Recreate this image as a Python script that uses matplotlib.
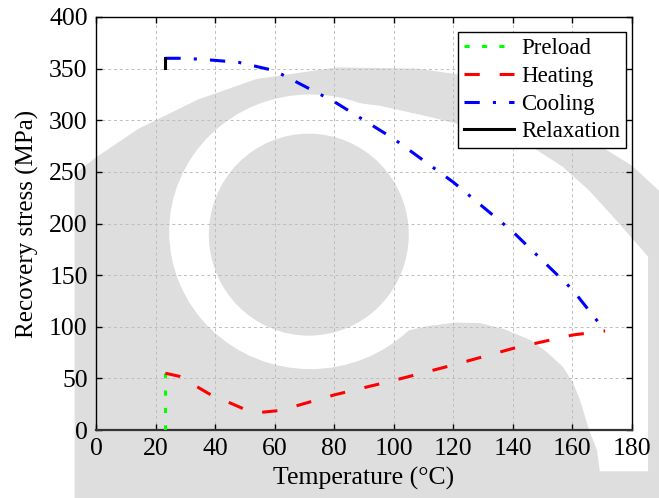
import numpy as np
import matplotlib.pyplot as plt
from matplotlib.patches import Ellipse, Polygon

plt.rcParams['font.family'] = ['Liberation Serif', 'DejaVu Serif']

# data
preload_t = [23.3, 23.3]
preload_s = [0, 55]

heating_t = [23.3, 28, 38, 50, 55, 62, 80, 100, 120, 140, 160, 171]
heating_s = [55, 52, 35, 20, 17, 19, 34, 48, 63, 79, 92, 96]

cooling_t = [23.3, 30, 40, 48, 60, 80, 100, 120, 140, 160, 171]
cooling_s = [360, 360, 358, 356, 348, 318, 282, 240, 192, 136, 96]

relax_t = [23.3, 23.3]
relax_s = [351, 360]

fig = plt.figure(figsize=(6.59, 4.98), dpi=100)
ax = fig.add_axes([0.1457, 0.1365, 0.8133, 0.8294])

# faint eye-shaped watermark behind the plot (axes fraction coords)
wm = '#dedede'
outer = [(-0.04, -0.4), (-0.04, 0.62), (0.0, 0.66), (0.08, 0.73), (0.19, 0.80),
         (0.30, 0.85), (0.45, 0.878), (0.60, 0.875), (0.707, 0.855),
         (0.80, 0.80), (0.90, 0.72), (1.0, 0.64), (1.05, 0.58), (1.1, 0.5),
         (1.1, -0.4)]
eye_white = [(0.40, 0.80), (0.437, 0.80), (0.53, 0.785), (0.623, 0.758),
             (0.748, 0.717), (0.82, 0.68), (0.871, 0.637), (0.92, 0.58),
             (0.965, 0.516), (1.03, 0.42), (1.03, -0.1), (0.94, -0.1),
             (0.935, -0.05), (0.92, 0.0), (0.903, 0.073), (0.89, 0.115),
             (0.871, 0.153), (0.84, 0.19), (0.81, 0.218), (0.76, 0.245),
             (0.716, 0.259), (0.67, 0.26), (0.62, 0.252), (0.562, 0.235),
             (0.50, 0.197), (0.437, 0.153), (0.40, 0.15), (0.35, 0.5)]
ax.add_patch(Polygon(outer, closed=True, transform=ax.transAxes, facecolor=wm,
                     edgecolor='none', zorder=0, clip_on=False))
ax.add_patch(Polygon(eye_white, closed=True, transform=ax.transAxes,
                     facecolor='white', edgecolor='none', zorder=0, clip_on=False))
ax.add_patch(Ellipse((0.40, 0.48), 0.527, 0.665, transform=ax.transAxes,
                     facecolor='white', edgecolor='none', zorder=0))
ax.add_patch(Ellipse((0.397, 0.473), 0.373, 0.489, transform=ax.transAxes,
                     facecolor=wm, edgecolor='none', zorder=0))

lw = 2.2
ax.plot(preload_t, preload_s, color='#00ff00', lw=lw, dashes=(1.7, 4.0),
        label='Preload', zorder=3)
ax.plot(heating_t, heating_s, color='red', lw=lw, dashes=(5, 6.5),
        label='Heating', zorder=3)
ax.plot(cooling_t, cooling_s, color='blue', lw=lw, dashes=(5, 4.3, 1, 4.3),
        label='Cooling', zorder=3)
ax.plot(relax_t, relax_s, color='black', lw=lw, label='Relaxation', zorder=3)

ax.set_xlim(0, 180)
ax.set_ylim(0, 400)
ax.set_xticks(np.arange(0, 181, 20))
ax.set_yticks(np.arange(0, 401, 50))
ax.grid(True, color='#bdbdbd', lw=0.7, dashes=(3, 3))
ax.set_axisbelow(True)
ax.tick_params(direction='in', top=True, right=True, length=4,
               labelsize=18.5, width=1, pad=6)
ax.patch.set_alpha(0)
for sp in ax.spines.values():
    sp.set_color('black')
    sp.set_linewidth(1)
ax.spines['bottom'].set_color('#333333')
ax.spines['bottom'].set_linewidth(1.6)

ax.set_xlabel('Temperature (°C)', fontsize=18.5, labelpad=5)
ax.set_ylabel('Recovery stress (MPa)', fontsize=18, labelpad=7)

leg = ax.legend(loc='upper right', bbox_to_anchor=(0.9888, 0.9637),
                borderaxespad=0, fontsize=16.5, handlelength=2.2,
                fancybox=False, framealpha=1, edgecolor='black',
                borderpad=0.25, labelspacing=0.3, handletextpad=0.3)
leg.get_frame().set_linewidth(1)

fig.savefig('out.png', dpi=100)
